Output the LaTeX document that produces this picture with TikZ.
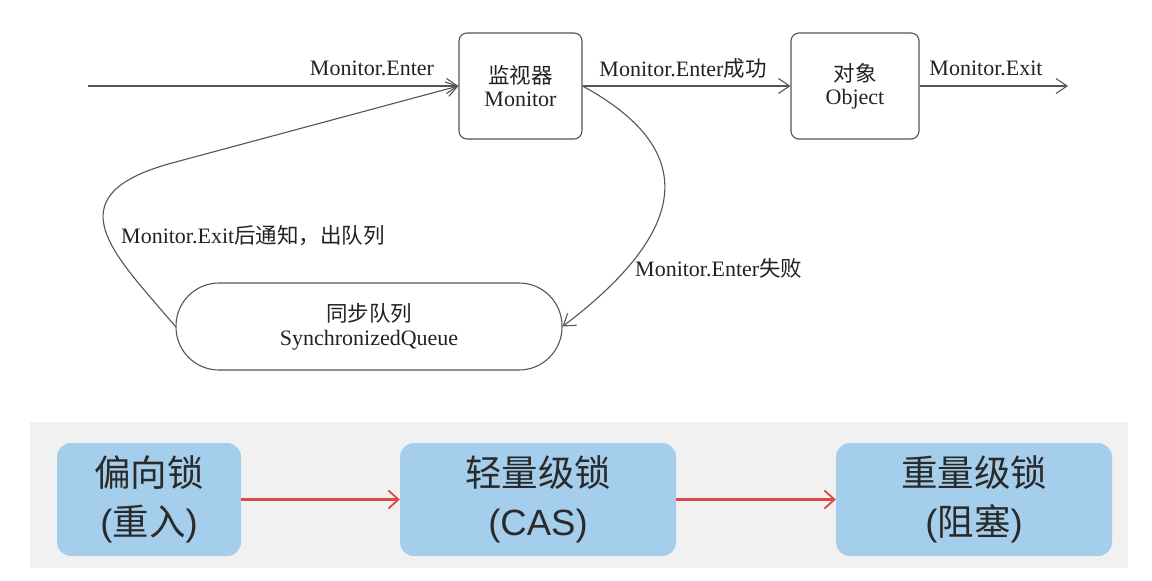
\documentclass[tikz,border=0pt]{standalone}
\usepackage{fontspec}
\setmainfont{Liberation Serif}
\newfontfamily\cjk{Noto Sans CJK SC}
\newfontfamily\cjkb{Noto Sans CJK SC}
\newfontfamily\lsans{Liberation Sans}
\usetikzlibrary{arrows.meta}
\definecolor{linegray}{HTML}{555555}
\definecolor{txtgray}{HTML}{222222}
\definecolor{boxblue}{HTML}{A5CEEC}
\definecolor{bggray}{HTML}{F1F1F1}
\definecolor{redline}{HTML}{D84A4A}
\definecolor{txtdark}{HTML}{2A2A2A}
\newcommand{\zh}[1]{{\cjk\fontsize{21.5}{25}\selectfont #1}}
\newcommand{\bz}[1]{{\cjkb #1}}
\begin{document}
\begin{tikzpicture}[x=1pt,y=-1pt,
  topfont/.style={font=\fontsize{22}{25}\selectfont, text=txtgray},
  statebox/.style={draw=linegray, line width=1.1pt, rounded corners=8pt, topfont, align=center, inner sep=0pt},
  arr/.style={draw=linegray, line width=1.1pt, -{Straight Barb[length=11pt,width=15pt,line width=1.1pt]}},
  elabel/.style={topfont, inner sep=0pt},
  lockbox/.style={fill=boxblue, rounded corners=14pt, align=center, inner sep=0pt,
     font=\lsans\fontsize{36.5}{49}\selectfont, text=txtdark},
  redarr/.style={draw=redline, line width=2.4pt, -{Straight Barb[length=10pt,width=18pt,line width=1.8pt]}}
]
\useasboundingbox (0,0) rectangle (1152,581);
\fill[white] (0,0) rectangle (1152,581);

% ---------- top diagram ----------
\node[statebox, minimum width=123pt, minimum height=106pt] (mon) at (520.5,86) {\zh{监视器}\\[-2pt]Monitor};
\node[statebox, minimum width=128pt, minimum height=106pt] (obj) at (855,86) {\zh{对象}\\[-2pt]Object};
\node[draw=linegray, line width=1.1pt, rounded corners=43pt, minimum width=386pt, minimum height=87pt,
      topfont, align=center, inner sep=0pt] (que) at (369,326.5) {\zh{同步队列}\\[-1pt]SynchronizedQueue};

\coordinate (start) at (88,86);
\coordinate (exitend) at (1068,86);
\coordinate (bend) at (172,163);

\draw[arr] (start) -- (mon.west);
\draw[arr] (mon.east) -- (obj.west);
\draw[arr] (obj.east) -- (exitend);
\draw[arr] (mon.east) .. controls (700,150) and (690,230) .. (que.east);
\draw[arr] (que.west) .. controls (115,255) and (50,196) .. (bend) -- (mon.west);

\node[elabel] (l1) at (372,68) {Monitor.Enter};
\node[elabel] (l2) at (683,68) {Monitor.Enter\zh{成功}};
\node[elabel] (l3) at (986,68) {Monitor.Exit};
\node[elabel, anchor=west] (l4) at (121,236) {Monitor.Exit\zh{后通知，出队列}};
\node[elabel, anchor=west] (l5) at (635,268) {Monitor.Enter\zh{失败}};

% ---------- bottom diagram ----------
\fill[bggray] (30,422) rectangle (1128,568);
\node[lockbox, minimum width=184pt, minimum height=113pt] (b1) at (149,499.5) {\bz{偏向锁}\\(\bz{重入})};
\node[lockbox, minimum width=276pt, minimum height=113pt] (b2) at (538,499.5) {\bz{轻量级锁}\\(CAS)};
\node[lockbox, minimum width=276pt, minimum height=113pt] (b3) at (974,499.5) {\bz{重量级锁}\\(\bz{阻塞})};
\draw[redarr] (b1.east) -- (b2.west);
\draw[redarr] (b2.east) -- (b3.west);
\end{tikzpicture}
\end{document}
